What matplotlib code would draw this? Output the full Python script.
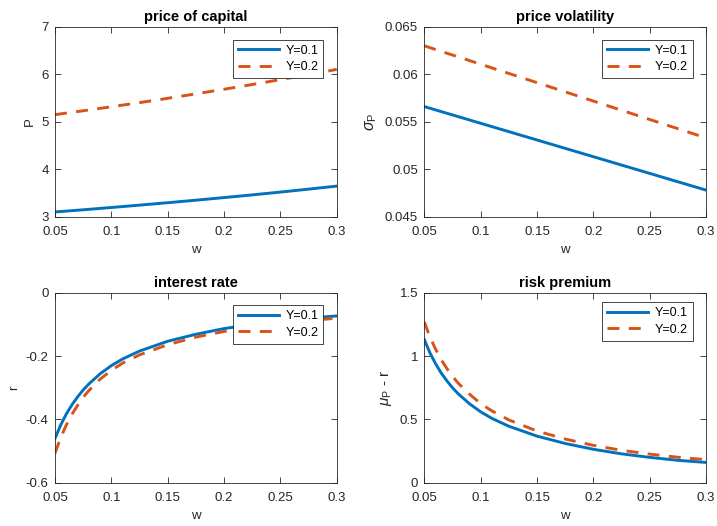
import matplotlib
matplotlib.use('Agg')
import matplotlib.pyplot as plt
from matplotlib.ticker import FuncFormatter

plt.rcParams['font.family'] = ['Liberation Sans', 'DejaVu Sans']
plt.rcParams['mathtext.fontset'] = 'custom'
plt.rcParams['mathtext.rm'] = 'Liberation Sans'
plt.rcParams['mathtext.it'] = 'Liberation Sans:italic'
plt.rcParams['axes.unicode_minus'] = False

# grid of w for the top panels
w_top = [0.05, 0.075, 0.1, 0.125, 0.15, 0.175, 0.2, 0.225, 0.25, 0.275, 0.3]
price_y1 = [3.100, 3.146, 3.194, 3.244, 3.295, 3.348, 3.403, 3.460, 3.519, 3.581, 3.645]
price_y2 = [5.150, 5.232, 5.316, 5.403, 5.494, 5.588, 5.685, 5.785, 5.888, 5.994, 6.103]
vol_y1 = [0.05660, 0.05572, 0.05484, 0.05396, 0.05308, 0.05220, 0.05132, 0.05044, 0.04956, 0.04868, 0.04780]
vol_y2 = [0.06300, 0.06203, 0.06106, 0.06009, 0.05912, 0.05815, 0.05718, 0.05621, 0.05524, 0.05427, 0.05330]

# finer grid near w=0.05 for the curved bottom panels
w_bot = [0.05, 0.055, 0.06, 0.065, 0.07, 0.075, 0.08, 0.09, 0.1, 0.11, 0.125,
         0.15, 0.175, 0.2, 0.225, 0.25, 0.275, 0.3]
rate_y1 = [-0.460, -0.418, -0.383, -0.354, -0.329, -0.307, -0.288, -0.256, -0.230, -0.209,
           -0.184, -0.153, -0.131, -0.113, -0.100, -0.089, -0.080, -0.073]
rate_y2 = [-0.507, -0.458, -0.418, -0.384, -0.356, -0.330, -0.309, -0.273, -0.245, -0.222,
           -0.196, -0.164, -0.140, -0.122, -0.108, -0.097, -0.088, -0.080]
prem_y1 = [1.130, 1.025, 0.940, 0.866, 0.805, 0.750, 0.703, 0.624, 0.560, 0.508,
           0.446, 0.368, 0.310, 0.264, 0.228, 0.200, 0.177, 0.160]
prem_y2 = [1.270, 1.150, 1.055, 0.972, 0.902, 0.840, 0.787, 0.700, 0.625, 0.567,
           0.496, 0.408, 0.345, 0.295, 0.256, 0.226, 0.201, 0.182]

labels = ['Y=0.1', 'Y=0.2']
blue = '#0072BD'
orange = '#D95319'
dark = '#262626'

fig = plt.figure(figsize=(7.17, 5.26), dpi=100)
axw, axh = 0.393, 0.361
ax1 = fig.add_axes([0.0767, 0.588, axw, axh])
ax2 = fig.add_axes([0.5918, 0.588, axw, axh])
ax3 = fig.add_axes([0.0767, 0.0823, axw, axh])
ax4 = fig.add_axes([0.5918, 0.0823, axw, axh])

fmt = FuncFormatter(lambda v, p: '{:g}'.format(round(v, 6)))


def panel(ax, x, y1, y2, title, ylabel, ylim, yticks, leg_top, ylab_size=9.5):
    ax.plot(x, y1, '-', color=blue, lw=2.1, label=labels[0])
    ax.plot(x, y2, '--', color=orange, lw=2.1, dashes=(4.1, 3.2), label=labels[1])
    ax.set_xlim(0.05, 0.3)
    ax.set_ylim(*ylim)
    ax.set_xticks([0.05, 0.1, 0.15, 0.2, 0.25, 0.3])
    ax.set_yticks(yticks)
    ax.xaxis.set_major_formatter(fmt)
    ax.yaxis.set_major_formatter(fmt)
    ax.tick_params(direction='in', top=True, right=True, length=4, width=0.6,
                   colors=dark, labelsize=9.5, labelcolor=dark)
    ax.tick_params(axis='x', pad=6.5)
    ax.tick_params(axis='y', pad=4.5)
    for s in ax.spines.values():
        s.set_color(dark)
        s.set_linewidth(0.6)
    ax.set_title(title, fontsize=10.5, fontweight='bold', pad=4, color='black')
    ax.set_xlabel('w', fontsize=9.5, color=dark, labelpad=4.5)
    ax.set_ylabel(ylabel, fontsize=ylab_size, color=dark)
    leg = ax.legend(loc='upper right', bbox_to_anchor=(0.952, leg_top),
                    borderaxespad=0, fancybox=False, framealpha=1,
                    edgecolor=dark, fontsize=9, handlelength=3.3,
                    handletextpad=0.5, borderpad=0.4, labelspacing=0.35)
    leg.get_frame().set_linewidth(0.6)


panel(ax1, w_top, price_y1, price_y2, 'price of capital', 'P',
      (3, 7), [3, 4, 5, 6, 7], 0.932)
panel(ax2, w_top, vol_y1, vol_y2, 'price volatility', r'$\sigma_{\rm P}$',
      (0.045, 0.065), [0.045, 0.05, 0.055, 0.06, 0.065], 0.932, ylab_size=11.5)
panel(ax3, w_bot, rate_y1, rate_y2, 'interest rate', 'r',
      (-0.6, 0), [-0.6, -0.4, -0.2, 0], 0.935)
panel(ax4, w_bot, prem_y1, prem_y2, 'risk premium', r'$\mu_{\rm P}$ - r',
      (0, 1.5), [0, 0.5, 1, 1.5], 0.95, ylab_size=11)

fig.savefig('out.png', dpi=100)
